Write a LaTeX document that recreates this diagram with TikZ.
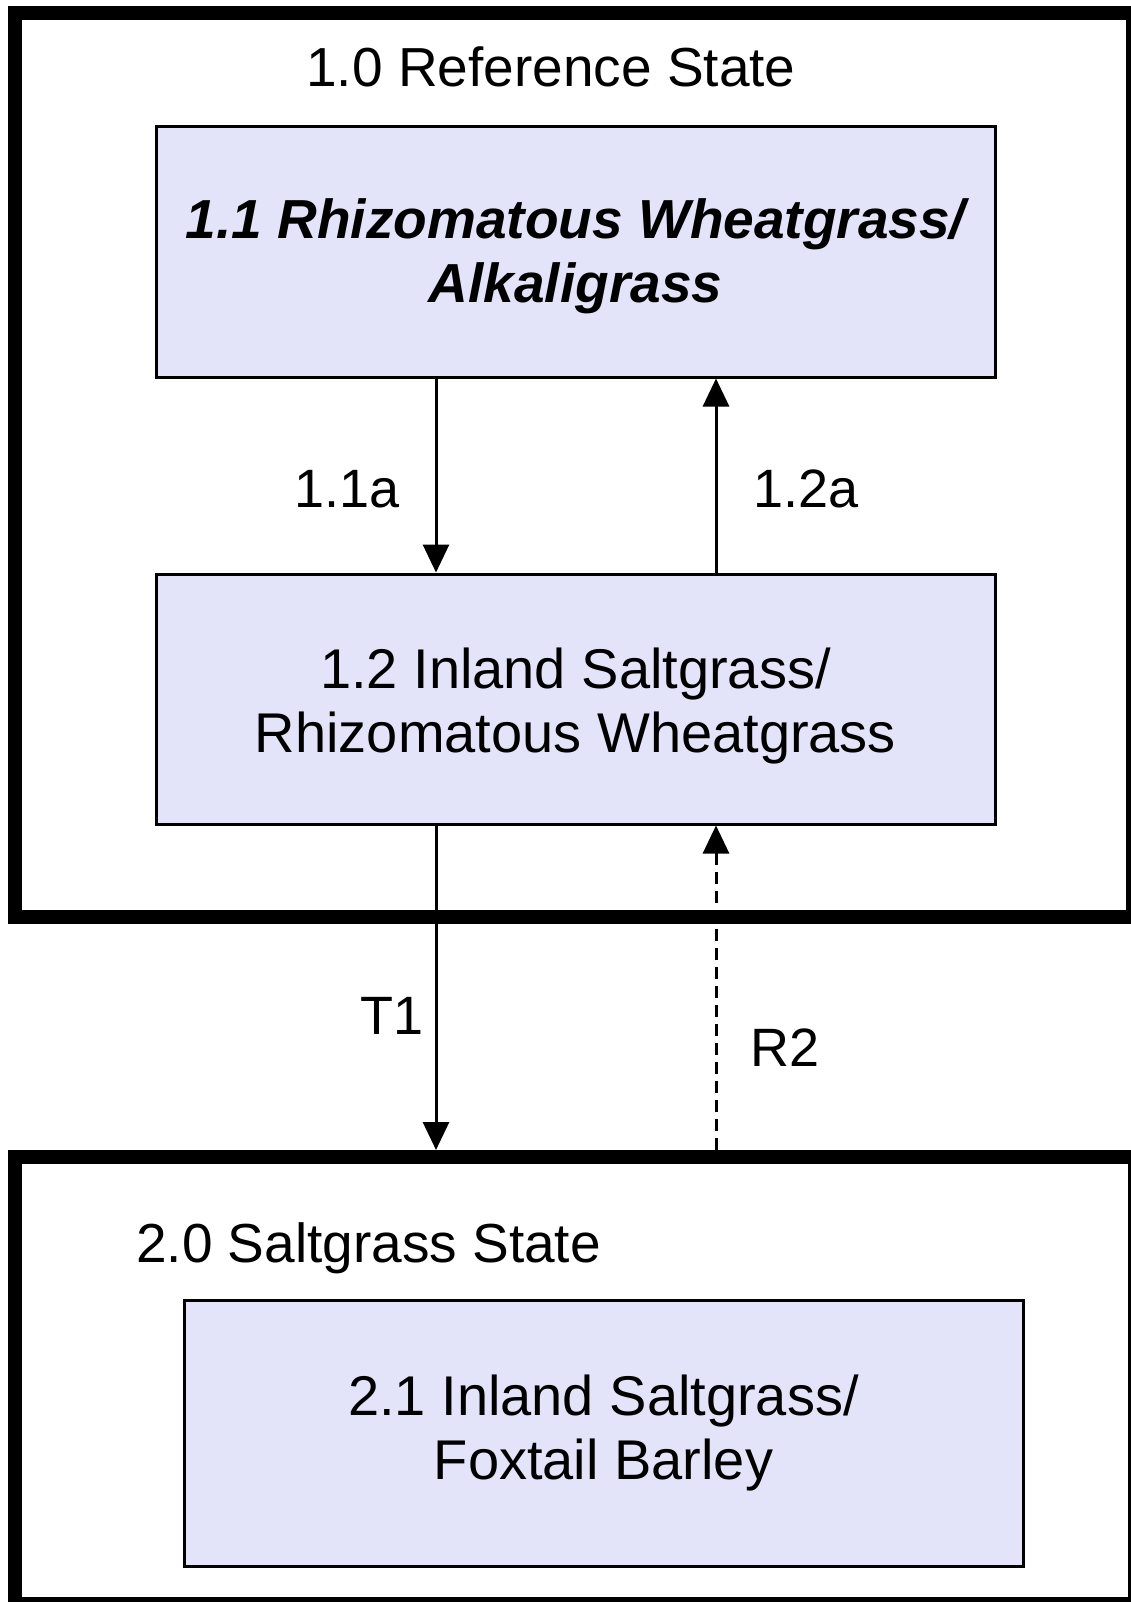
\documentclass[tikz,border=0pt]{standalone}
\usepackage{fontspec}
\setmainfont{Liberation Sans}
\usetikzlibrary{arrows.meta}
\definecolor{boxfill}{RGB}{227,227,250}
\begin{document}
\begin{tikzpicture}[x=1pt,y=-1pt,
  statebox/.style={draw=black,line width=14pt,fill=white,inner sep=0pt,minimum width=#1},
  phase/.style={draw=black,line width=3pt,fill=boxfill,align=center,inner sep=0pt,
    minimum width=839pt,font=\fontsize{56}{64}\selectfont},
  title/.style={font=\fontsize{55}{64}\selectfont,inner sep=0pt},
  lbl/.style={font=\fontsize{54}{64}\selectfont,inner sep=0pt,anchor=base},
  arr/.style={line width=3pt,-{Triangle[width=26pt,length=28pt]}},
  darr/.style={arr,dash pattern=on 12pt off 7pt}
]
\useasboundingbox (0,0) rectangle (1131,1602);
% state boxes
\node[statebox=1118pt,minimum height=904pt] (s1) at (574,465) {};
\node[statebox=1120pt,minimum height=447pt] (s2) at (575,1380.5) {};
\node[title,anchor=base] (t1) at (551,87) {1.0 Reference State};
\node[title,anchor=base west] (t2) at (136,1262) {2.0 Saltgrass State};
% community phases
\node[phase,minimum height=250pt,font=\fontsize{55}{64}\selectfont\bfseries\itshape] (b11) at (575.5,252) {\rule{0pt}{48pt}1.1 Rhizomatous Wheatgrass/\\Alkaligrass};
\node[phase,minimum height=250pt] (b12) at (575.5,699) {\rule{0pt}{54pt}1.2 Inland Saltgrass/\\Rhizomatous Wheatgrass};
\node[phase,minimum height=266pt] (b21) at (603.5,1433) {2.1 Inland Saltgrass/\\Foxtail Barley};
% arrow columns
\coordinate (ca) at (436,0);
\coordinate (cb) at (716,0);
\draw[arr] (b11.south -| ca) -- (b12.north -| ca);
\draw[arr] (b12.north -| cb) -- (b11.south -| cb);
\draw[arr] (b12.south -| ca) -- (s2.north -| ca);
\draw[darr] (s2.north -| cb) -- (b12.south -| cb);
% labels
\node[lbl] (l11a) at (347,507) {1.1a};
\node[lbl] (l12a) at (806,507) {1.2a};
\node[lbl] (lt1) at (392,1034) {T1};
\node[lbl] (lr2) at (785,1066) {R2};
\end{tikzpicture}
\end{document}
